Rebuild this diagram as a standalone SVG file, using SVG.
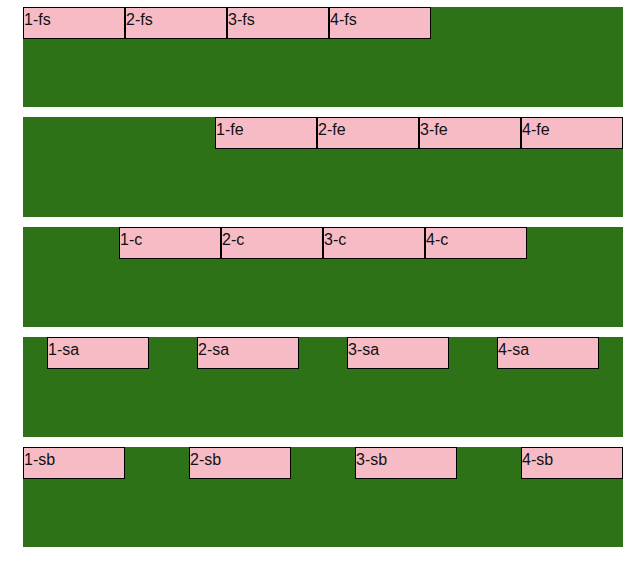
<svg xmlns="http://www.w3.org/2000/svg" width="644" height="562" viewBox="0 0 644 562">
<style>
.c{fill:#2e7217}
.b{fill:#f7bbc6;stroke:#000;stroke-width:1}
text{font-family:"Liberation Sans",Arial,sans-serif;font-size:16px;fill:#111}
</style>
<rect width="644" height="562" fill="#fff"/>
<g id="row1">
<rect class="c" x="23" y="7" width="600" height="100"/>
<g id="n1-fs"><rect class="b" x="23.5" y="7.5" width="101" height="31"/><text x="24" y="25">1-fs</text></g>
<g id="n2-fs"><rect class="b" x="125.5" y="7.5" width="101" height="31"/><text x="126" y="25">2-fs</text></g>
<g id="n3-fs"><rect class="b" x="227.5" y="7.5" width="101" height="31"/><text x="228" y="25">3-fs</text></g>
<g id="n4-fs"><rect class="b" x="329.5" y="7.5" width="101" height="31"/><text x="330" y="25">4-fs</text></g>
</g>
<g id="row2">
<rect class="c" x="23" y="117" width="600" height="100"/>
<g id="n1-fe"><rect class="b" x="215.5" y="117.5" width="101" height="31"/><text x="216" y="135">1-fe</text></g>
<g id="n2-fe"><rect class="b" x="317.5" y="117.5" width="101" height="31"/><text x="318" y="135">2-fe</text></g>
<g id="n3-fe"><rect class="b" x="419.5" y="117.5" width="101" height="31"/><text x="420" y="135">3-fe</text></g>
<g id="n4-fe"><rect class="b" x="521.5" y="117.5" width="101" height="31"/><text x="522" y="135">4-fe</text></g>
</g>
<g id="row3">
<rect class="c" x="23" y="227" width="600" height="100"/>
<g id="n1-c"><rect class="b" x="119.5" y="227.5" width="101" height="31"/><text x="120" y="245">1-c</text></g>
<g id="n2-c"><rect class="b" x="221.5" y="227.5" width="101" height="31"/><text x="222" y="245">2-c</text></g>
<g id="n3-c"><rect class="b" x="323.5" y="227.5" width="101" height="31"/><text x="324" y="245">3-c</text></g>
<g id="n4-c"><rect class="b" x="425.5" y="227.5" width="101" height="31"/><text x="426" y="245">4-c</text></g>
</g>
<g id="row4">
<rect class="c" x="23" y="337" width="600" height="100"/>
<g id="n1-sa"><rect class="b" x="47.5" y="337.5" width="101" height="31"/><text x="48" y="355">1-sa</text></g>
<g id="n2-sa"><rect class="b" x="197.5" y="337.5" width="101" height="31"/><text x="198" y="355">2-sa</text></g>
<g id="n3-sa"><rect class="b" x="347.5" y="337.5" width="101" height="31"/><text x="348" y="355">3-sa</text></g>
<g id="n4-sa"><rect class="b" x="497.5" y="337.5" width="101" height="31"/><text x="498" y="355">4-sa</text></g>
</g>
<g id="row5">
<rect class="c" x="23" y="447" width="600" height="100"/>
<g id="n1-sb"><rect class="b" x="23.5" y="447.5" width="101" height="31"/><text x="24" y="465">1-sb</text></g>
<g id="n2-sb"><rect class="b" x="189.5" y="447.5" width="101" height="31"/><text x="190" y="465">2-sb</text></g>
<g id="n3-sb"><rect class="b" x="355.5" y="447.5" width="101" height="31"/><text x="356" y="465">3-sb</text></g>
<g id="n4-sb"><rect class="b" x="521.5" y="447.5" width="101" height="31"/><text x="522" y="465">4-sb</text></g>
</g>
<g id="connectors"/>
</svg>
